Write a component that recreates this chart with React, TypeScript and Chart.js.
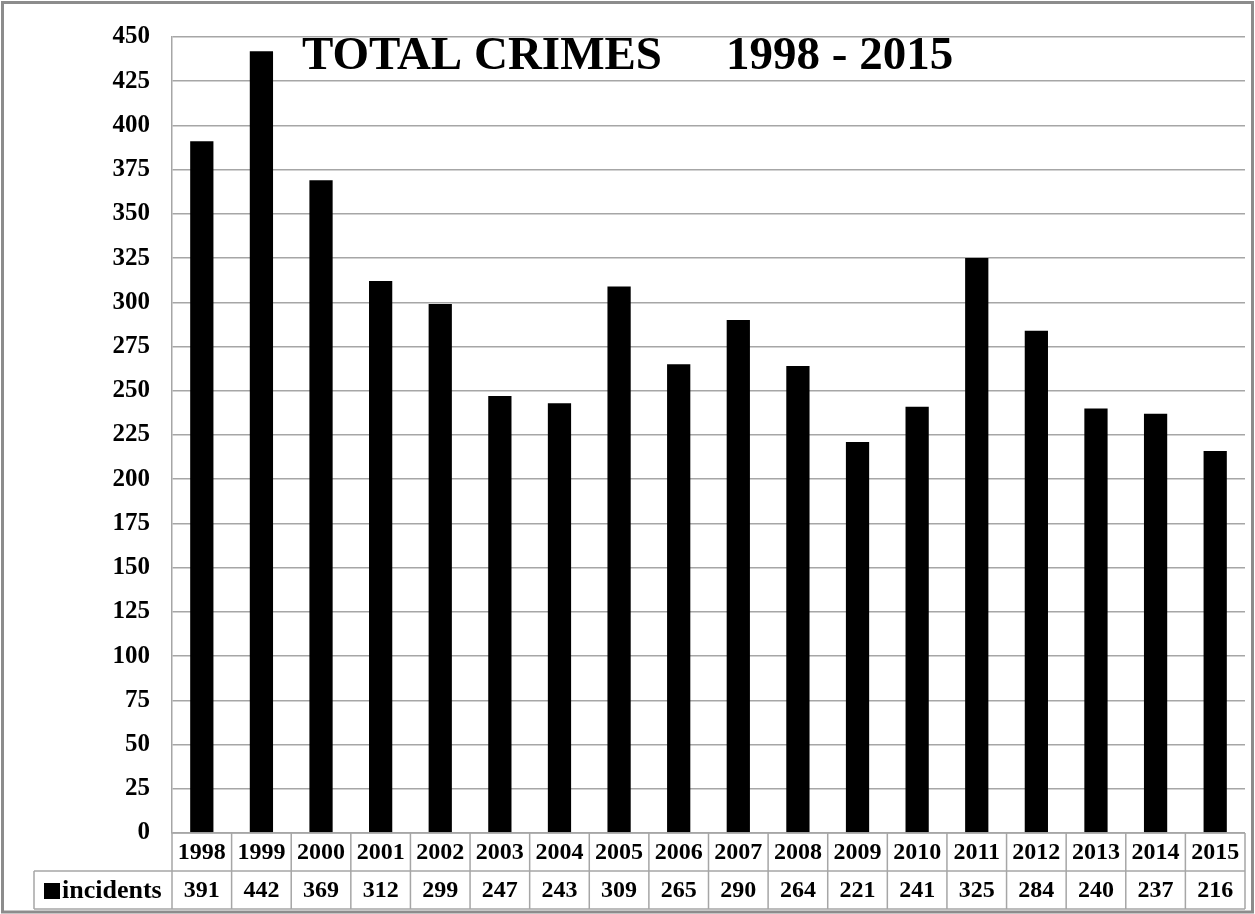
import React, { useEffect, useRef } from "react";
import { Chart, registerables } from "chart.js";

Chart.register(...registerables);

const years = ["1998","1999","2000","2001","2002","2003","2004","2005","2006","2007","2008","2009","2010","2011","2012","2013","2014","2015"];
const incidents = [391,442,369,312,299,247,243,309,265,290,264,221,241,325,284,240,237,216];
const seriesName = "incidents";
const titleLeft = "TOTAL CRIMES";
const titleRight = "1998 - 2015";

const FONT = "'Liberation Serif', 'Times New Roman', serif";
const GRID = "#a6a6a6";

export default function App() {
  const ref = useRef<HTMLCanvasElement | null>(null);

  useEffect(() => {
    if (!ref.current) return;
    const overlay = {
      id: "overlay",
      beforeDraw(chart: any) {
        const ctx = chart.ctx;
        ctx.save();
        ctx.fillStyle = "#ffffff";
        ctx.fillRect(0, 0, chart.width, chart.height);
        ctx.restore();
      },
      afterDraw(chart: any) {
        const ctx = chart.ctx;
        const x = chart.scales.x;
        const area = chart.chartArea;
        const n = years.length;
        const c0 = x.getPixelForValue(0);
        const c1 = x.getPixelForValue(1);
        const w = c1 - c0;
        const top = area.bottom;
        const mid = top + 38;
        const bot = mid + 38;
        const labelLeft = 34;
        ctx.save();
        // title
        ctx.fillStyle = "#000";
        ctx.font = `bold 47px ${FONT}`;
        ctx.textAlign = "left";
        ctx.textBaseline = "alphabetic";
        ctx.fillText(titleLeft, 302, 69);
        ctx.fillText(titleRight, 726, 69);
        // table lines
        ctx.strokeStyle = GRID;
        ctx.lineWidth = 1.5;
        ctx.beginPath();
        ctx.moveTo(area.left, top); ctx.lineTo(area.right, top);
        ctx.moveTo(labelLeft, mid); ctx.lineTo(area.right, mid);
        ctx.moveTo(labelLeft, bot); ctx.lineTo(area.right, bot);
        ctx.moveTo(labelLeft, mid); ctx.lineTo(labelLeft, bot);
        for (let i = 0; i <= n; i++) {
          const bx = c0 - w / 2 + i * w;
          ctx.moveTo(bx, top); ctx.lineTo(bx, bot);
        }
        ctx.stroke();
        // table text
        ctx.fillStyle = "#000";
        ctx.font = `bold 24px ${FONT}`;
        ctx.textAlign = "center";
        ctx.textBaseline = "middle";
        for (let i = 0; i < n; i++) {
          const cx = x.getPixelForValue(i);
          ctx.fillText(years[i], cx, (top + mid) / 2 + 1);
          ctx.fillText(String(incidents[i]), cx, (mid + bot) / 2 + 1);
        }
        // legend key + label
        ctx.fillRect(44, 883, 16, 16);
        ctx.font = `bold 26px ${FONT}`;
        ctx.textAlign = "left";
        ctx.fillText(seriesName, 62, (mid + bot) / 2 + 1);
        // outer border
        ctx.strokeStyle = "#8c8c8c";
        ctx.lineWidth = 3;
        ctx.strokeRect(2.5, 2.5, chart.width - 5, chart.height - 4.5);
        ctx.restore();
      },
    };

    const chart = new Chart(ref.current, {
      type: "bar",
      data: {
        labels: years,
        datasets: [
          {
            label: seriesName,
            data: incidents,
            backgroundColor: "#000000",
            borderWidth: 0,
            barPercentage: 0.39,
            categoryPercentage: 1,
          },
        ],
      },
      options: {
        responsive: false,
        animation: false,
        devicePixelRatio: 1,
        layout: { padding: { left: 0, top: 35, right: 10, bottom: 81 } },
        plugins: {
          legend: { display: false },
          title: { display: false },
          tooltip: { enabled: false },
        },
        scales: {
          x: { display: false },
          y: {
            min: 0,
            max: 450,
            afterFit: (s: any) => { s.width = 172; },
            ticks: {
              stepSize: 25,
              color: "#000",
              padding: 22,
              font: { family: FONT, size: 25, weight: "bold" },
            },
            grid: { color: GRID, lineWidth: 1.5, drawTicks: false },
            border: { display: true, color: GRID, width: 1.5 },
          },
        },
      },
      plugins: [overlay],
    });
    return () => chart.destroy();
  }, []);

  return (
    <div style={{ position: "absolute", left: 0, top: 0, width: 1255, height: 914, background: "#fff" }}>
      <canvas ref={ref} width={1255} height={914} style={{ display: "block", width: 1255, height: 914 }} />
    </div>
  );
}
